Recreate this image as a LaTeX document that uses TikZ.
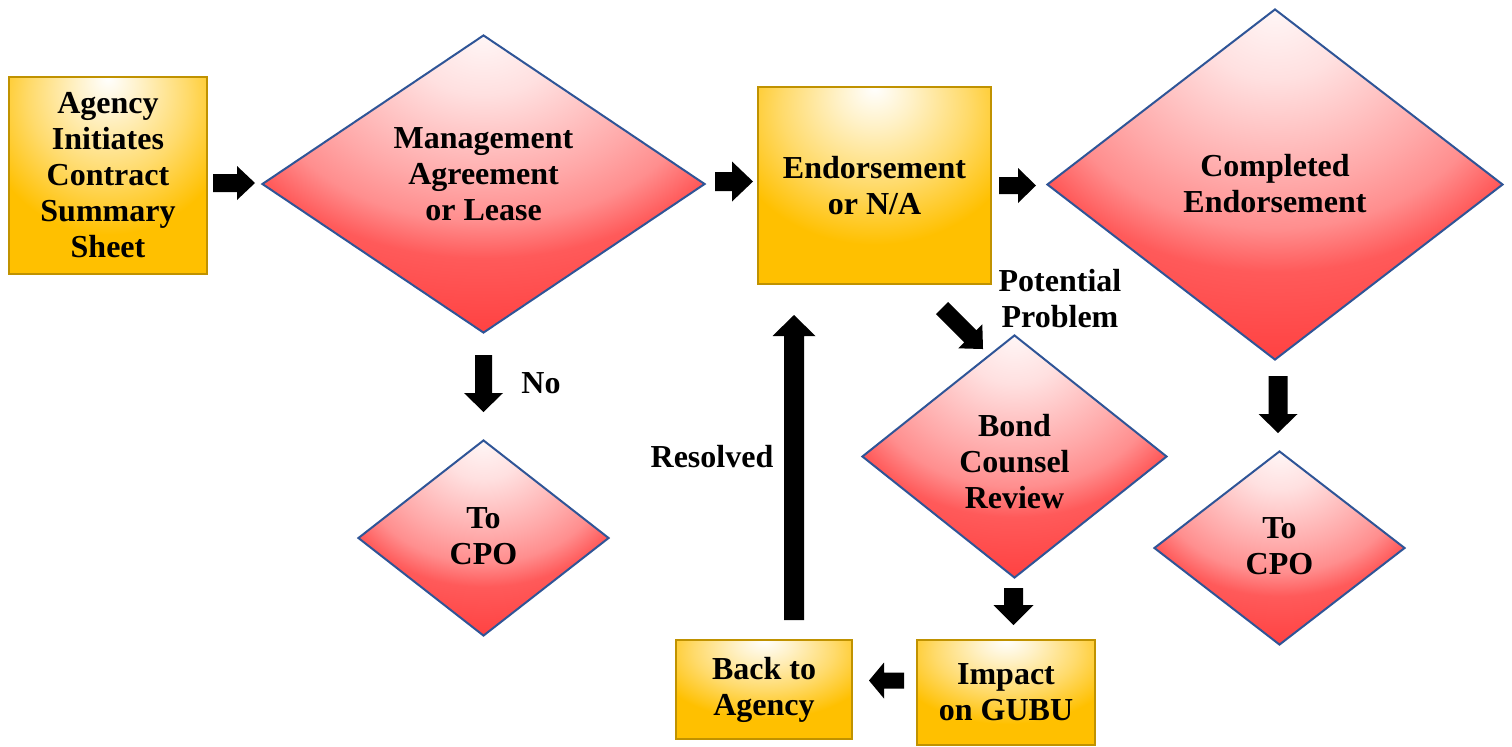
\documentclass[tikz,border=0pt]{standalone}
\usepackage{fontspec}
\setmainfont{Liberation Serif}
\usetikzlibrary{shapes.geometric,calc}

\definecolor{boxgold}{HTML}{FFC000}
\definecolor{boxedge}{HTML}{C09200}
\definecolor{diatop}{HTML}{FFF6F6}
\definecolor{dialight}{HTML}{FFE0E0}
\definecolor{diapink}{HTML}{FFA8A8}
\definecolor{diarose}{HTML}{FF8E8E}
\definecolor{diasalmon}{HTML}{FF5A5A}
\definecolor{diared}{HTML}{FF4242}
\definecolor{diaedge}{HTML}{2F5597}

% glow centred on the top edge of each shape (the shape spans -25bp..25bp)
\pgfdeclareradialshading{goldglow}{\pgfpoint{0bp}{25bp}}{%
  color(0bp)=(white); color(8bp)=(boxgold!22!white);
  color(20bp)=(boxgold!58!white); color(32bp)=(boxgold); color(100bp)=(boxgold)}
\pgfdeclareradialshading{redglow}{\pgfpoint{0bp}{25bp}}{%
  color(0bp)=(diatop); color(8bp)=(dialight); color(20bp)=(diapink);
  color(25bp)=(diarose); color(30bp)=(diasalmon); color(40bp)=(diared);
  color(100bp)=(diared)}

% solid block arrow: tail x, tail y, angle, length, shaft width, head width, head length
\newcommand\flowarrow[7]{%
  \begin{scope}[shift={(#1,#2)},rotate=#3]
    \fill[black] (0,-#5/2) -- ({#4-#7},-#5/2) -- ({#4-#7},-#6/2) -- (#4,0)
      -- ({#4-#7},#6/2) -- ({#4-#7},#5/2) -- (0,#5/2) -- cycle;
  \end{scope}}

\tikzset{
  stepbox/.style={rectangle, draw=boxedge, line width=1.2pt, shading=goldglow,
    inner sep=0pt, align=center},
  decision/.style={diamond, draw=diaedge, line width=1pt, shading=redglow,
    inner sep=0pt, aspect=1},
  caption/.style={align=center, inner sep=0pt},
}

\begin{document}
\begin{tikzpicture}[x=0.5pt, y=-0.5pt,
  every node/.append style={font=\bfseries\fontsize{16pt}{18pt}\selectfont}]
\useasboundingbox (0,0) rectangle (1512,746);

% process boxes
\node[stepbox, minimum width=99pt, minimum height=98.5pt] (agency) at (108,175.5)
  {Agency\\Initiates\\Contract\\Summary\\Sheet};
\node[stepbox, minimum width=116.5pt, minimum height=98.5pt] (endorse) at (874.5,185.5)
  {Endorsement\\or N/A};
\node[stepbox, minimum width=89pt, minimum height=52.5pt] (impact) at (1006,692.5)
  {Impact\\on GUBU};
\node[stepbox, minimum width=88pt, minimum height=49.5pt] (back) at (764,689.5)
  {Back to\\Agency};

% decisions
\node[decision, minimum width=221.5pt, minimum height=149pt] (mgmt) at (483.5,184) {};
\node[caption] (mgmt-t) at (483.5,174.5) {Management\\Agreement\\or Lease};
\node[decision, minimum width=228pt, minimum height=175.5pt] (done) at (1275,184.5) {};
\node[caption] (done-t) at (1275,184) {Completed\\Endorsement};
\node[decision, minimum width=125.5pt, minimum height=98pt] (cpoa) at (483.5,538) {};
\node[caption] (cpoa-t) at (483.5,536.5) {To\\CPO};
\node[decision, minimum width=125.5pt, minimum height=97pt] (cpob) at (1279.5,548) {};
\node[caption] (cpob-t) at (1279.5,546.5) {To\\CPO};
\node[decision, minimum width=152.5pt, minimum height=121.5pt] (bond) at (1014.5,456.5) {};
\node[caption] (bond-t) at (1014.5,461.5) {Bond\\Counsel\\Review};

% labels beside the arrows
\node[caption] (no) at (541,383) {No};
\node[caption] (problem) at (1060,298.5) {Potential\\Problem};
\node[caption] (resolved) at (712,457) {Resolved};

% block arrows
\flowarrow{213}{183}{0}{42}{18}{34}{18}
\flowarrow{715}{181.5}{0}{38}{19}{40}{21}
\flowarrow{999}{185.5}{0}{37}{17}{35}{18}
\flowarrow{483.5}{355}{-90}{57}{17}{39}{19}
\flowarrow{1278}{376}{-90}{57}{19}{39}{19}
\flowarrow{1013.5}{588}{-90}{37}{19}{40}{20}
\flowarrow{904}{680.5}{180}{35}{16}{36}{15}
\flowarrow{794}{620}{90}{305}{20}{43}{21}
\flowarrow{942}{308}{-45}{58}{17}{34}{18}
\end{tikzpicture}
\end{document}
